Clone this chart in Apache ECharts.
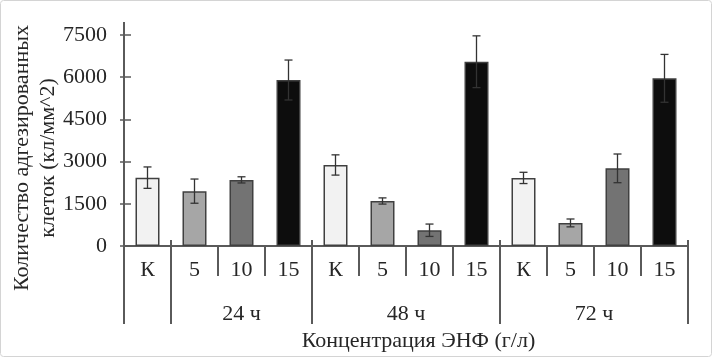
<!DOCTYPE html>
<html>
<head>
<meta charset="utf-8">
<script src="https://cdn.jsdelivr.net/npm/echarts@6/dist/echarts.min.js"></script>
<style>
  html, body { margin: 0; padding: 0; background: #fff; }
  #chart { width: 712px; height: 357px; }
</style>
</head>
<body>
<div id="chart"></div>
<script>
// подписи первого уровня (концентрация)
const categories = ['К', '5', '10', '15', 'К', '5', '10', '15', 'К', '5', '10', '15'];
// средние значения, кл/мм^2
const values = [2430, 1950, 2350, 5900, 2880, 1600, 560, 6550, 2420, 820, 2760, 5960];
// стандартное отклонение
const errors = [380, 430, 110, 710, 360, 110, 220, 920, 200, 140, 510, 850];
// второй уровень (время)
const groupLabels = ['', '24 ч', '48 ч', '72 ч'];
const groupStart = [0, 1, 4, 8];
const groupEnd = [1, 4, 8, 12];
// деления оси Y
const yTicks = [0, 1500, 3000, 4500, 6000, 7500];

const palette = { 'К': '#f2f2f2', '5': '#a6a6a6', '10': '#737373', '15': '#0d0d0d' };
const axisColor = '#5a5a5a';
const textColor = '#262626';
const font = '"Liberation Serif", "Times New Roman", serif';
const fs = 22;

const chart = echarts.init(document.getElementById('chart'));

const barData = values.map((v, i) => ({
  value: v,
  itemStyle: { color: palette[categories[i]] },
}));

const errData = values.map((v, i) => [i, v, errors[i]]);
const groupData = groupLabels.map((g, i) => [groupStart[i], groupEnd[i], g]);

// планки погрешностей
function renderError(params, api) {
  const i = api.value(0);
  const v = api.value(1);
  const e = api.value(2);
  const top = api.coord([i, v + e]);
  const bot = api.coord([i, v - e]);
  const hw = 4;
  const style = { stroke: '#333', lineWidth: 1.3 };
  return {
    type: 'group',
    children: [
      { type: 'line', shape: { x1: top[0], y1: top[1], x2: bot[0], y2: bot[1] }, style },
      { type: 'line', shape: { x1: top[0] - hw, y1: top[1], x2: top[0] + hw, y2: top[1] }, style },
      { type: 'line', shape: { x1: bot[0] - hw, y1: bot[1], x2: bot[0] + hw, y2: bot[1] }, style },
    ],
  };
}

// второй уровень оси X: длинные разделители и подписи групп
function renderGroup(params, api) {
  const s = api.value(0);
  const e = api.value(1);
  const label = groupLabels[params.dataIndex];
  const bw = api.size([1, 0])[0];
  const base = api.coord([0, 0])[1];
  const xs = api.coord([s, 0])[0] - bw / 2;
  const xe = api.coord([e - 1, 0])[0] + bw / 2;
  const style = { stroke: axisColor, lineWidth: 2 };
  const children = [];
  let y1 = base - 6;
  if (s === 0) y1 = api.coord([0, 7500])[1] - 13;
  children.push({ type: 'line', shape: { x1: xs, y1: y1, x2: xs, y2: base + 78 }, style });
  if (params.dataIndex === groupLabels.length - 1) {
    children.push({ type: 'line', shape: { x1: xe, y1: base - 6, x2: xe, y2: base + 78 }, style });
  }
  children.push({
    type: 'text',
    style: {
      text: label, x: (xs + xe) / 2, y: base + 68,
      align: 'center', verticalAlign: 'middle',
      fill: textColor, font: fs + 'px ' + font,
    },
  });
  return { type: 'group', children };
}

const option = {
  animation: false,
  grid: { left: 124, top: 35, width: 564, height: 211 },
  xAxis: {
    type: 'category',
    data: categories,
    axisLine: { lineStyle: { color: axisColor, width: 2 } },
    axisTick: { show: true, interval: 0, length: 30, lineStyle: { color: axisColor, width: 2 } },
    axisLabel: { interval: 0, margin: 13, color: textColor, fontFamily: font, fontSize: fs },
    name: 'Концентрация ЭНФ (г/л)',
    nameLocation: 'middle',
    nameGap: 84,
    nameTextStyle: { color: textColor, fontFamily: font, fontSize: fs, padding: [0, 0, 0, 25] },
  },
  yAxis: [
    {
      type: 'value',
      min: yTicks[0],
      max: yTicks[yTicks.length - 1],
      interval: yTicks[1] - yTicks[0],
      axisLine: { show: true, lineStyle: { color: axisColor, width: 2 } },
      axisTick: { show: true, length: 4, lineStyle: { color: axisColor, width: 1.5 } },
      axisLabel: {
        margin: 17, color: textColor, fontFamily: font, fontSize: fs,
        formatter: (v) => String(v),
      },
      splitLine: { show: false },
    },
    {
      type: 'value',
      position: 'left',
      min: yTicks[0],
      max: yTicks[yTicks.length - 1],
      interval: yTicks[1] - yTicks[0],
      axisLine: { show: false },
      axisTick: { show: true, inside: true, length: 7, lineStyle: { color: axisColor, width: 1.5 } },
      axisLabel: { show: false },
      splitLine: { show: false },
    },
  ],
  graphic: [
    {
      type: 'rect',
      shape: { x: 0.5, y: 0.5, width: 711, height: 356, r: 3 },
      style: { fill: 'none', stroke: '#d4d4d4', lineWidth: 1 },
      silent: true,
    },
    {
      type: 'text',
      x: 35,
      y: 158,
      rotation: Math.PI / 2,
      style: {
        text: 'Количество адгезированных\nклеток (кл/мм^2)',
        align: 'center',
        verticalAlign: 'middle',
        lineHeight: 26,
        fill: textColor,
        font: fs + 'px ' + font,
      },
    },
  ],
  series: [
    {
      type: 'bar',
      data: barData,
      barWidth: 24,
      itemStyle: { borderColor: '#404040', borderWidth: 1.5 },
      z: 2,
    },
    {
      type: 'custom',
      renderItem: renderError,
      data: errData,
      z: 3,
    },
    {
      type: 'custom',
      renderItem: renderGroup,
      data: groupData,
      clip: false,
      z: 1,
    },
  ],
};

chart.setOption(option);
</script>
</body>
</html>
